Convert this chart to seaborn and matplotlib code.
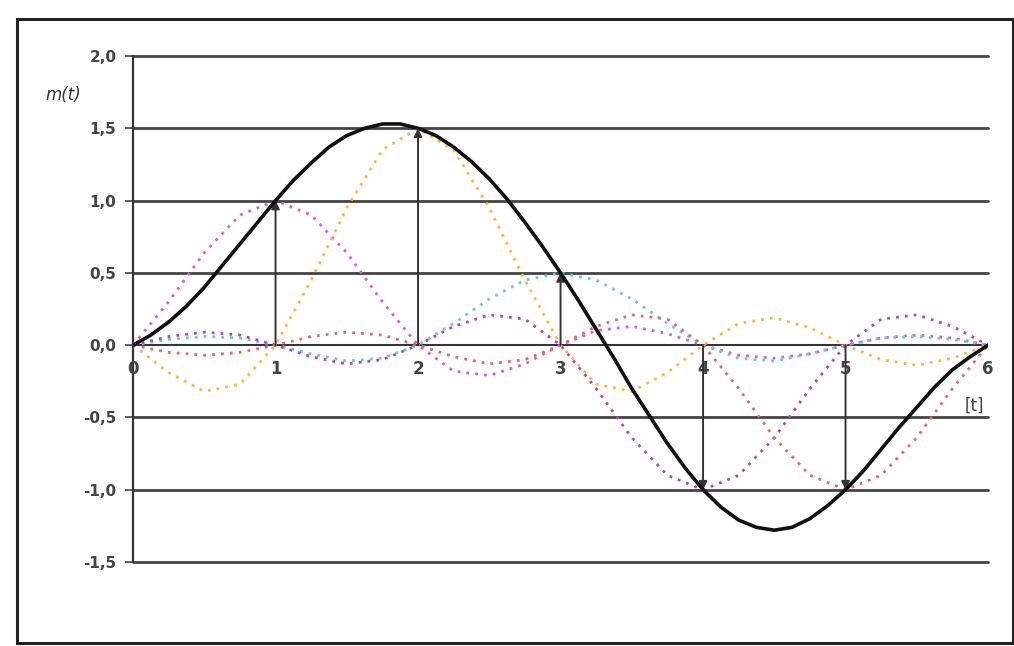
import numpy as np
import pandas as pd
import seaborn as sns
import matplotlib.pyplot as plt
from matplotlib.patches import Rectangle

# time axis for the sample contributions (every 0.25)
t = [0.0, 0.25, 0.5, 0.75, 1.0, 1.25, 1.5, 1.75, 2.0, 2.25, 2.5, 2.75, 3.0,
     3.25, 3.5, 3.75, 4.0, 4.25, 4.5, 4.75, 5.0, 5.25, 5.5, 5.75, 6.0]

# contribution of each sample (dotted curves)
c1 = [0.0, 0.30, 0.64, 0.90, 1.0, 0.90, 0.64, 0.30, 0.0, -0.18, -0.21, -0.13, 0.0,
      0.10, 0.13, 0.08, 0.0, -0.07, -0.09, -0.06, 0.0, 0.05, 0.07, 0.05, 0.0]
c2 = [0.0, -0.19, -0.32, -0.27, 0.0, 0.45, 0.95, 1.35, 1.5, 1.35, 0.95, 0.45, 0.0,
      -0.27, -0.32, -0.19, 0.0, 0.15, 0.19, 0.12, 0.0, -0.10, -0.14, -0.09, 0.0]
c3 = [0.0, 0.04, 0.06, 0.05, 0.0, -0.06, -0.11, -0.09, 0.0, 0.15, 0.32, 0.45, 0.5,
      0.45, 0.32, 0.15, 0.0, -0.09, -0.11, -0.06, 0.0, 0.05, 0.06, 0.04, 0.0]
c4 = [0.0, 0.06, 0.09, 0.07, 0.0, -0.08, -0.13, -0.10, 0.0, 0.13, 0.21, 0.18, 0.0,
      -0.30, -0.64, -0.90, -1.0, -0.90, -0.64, -0.30, 0.0, 0.18, 0.21, 0.13, 0.0]
c5 = [0.0, -0.05, -0.07, -0.05, 0.0, 0.06, 0.09, 0.07, 0.0, -0.08, -0.13, -0.10, 0.0,
      0.13, 0.21, 0.18, 0.0, -0.30, -0.64, -0.90, -1.0, -0.90, -0.64, -0.30, 0.0]
zero = [0.0] * 25

# reconstructed signal m(t), every 0.125
tm = [0.0, 0.125, 0.25, 0.375, 0.5, 0.625, 0.75, 0.875, 1.0, 1.125, 1.25, 1.375,
      1.5, 1.625, 1.75, 1.875, 2.0, 2.125, 2.25, 2.375, 2.5, 2.625, 2.75, 2.875,
      3.0, 3.125, 3.25, 3.375, 3.5, 3.625, 3.75, 3.875, 4.0, 4.125, 4.25, 4.375,
      4.5, 4.625, 4.75, 4.875, 5.0, 5.125, 5.25, 5.375, 5.5, 5.625, 5.75, 5.875, 6.0]
m = [0.0, 0.07, 0.16, 0.27, 0.40, 0.55, 0.70, 0.85, 1.0, 1.14, 1.26, 1.37,
     1.45, 1.50, 1.53, 1.53, 1.5, 1.45, 1.37, 1.27, 1.15, 1.01, 0.85, 0.68,
     0.5, 0.31, 0.11, -0.09, -0.30, -0.49, -0.68, -0.85, -1.0, -1.12, -1.21, -1.26,
     -1.28, -1.26, -1.20, -1.11, -1.0, -0.87, -0.72, -0.57, -0.43, -0.29, -0.17, -0.08, 0.0]

# sample points (arrows)
sample_t = [1, 2, 3, 4, 5]
sample_v = [1.0, 1.5, 0.5, -1.0, -1.0]

series = {'c1': c1, 'c2': c2, 'c3': c3, 'c4': c4, 'c5': c5}
colors = {'c1': '#d860c8', 'c2': '#ffb545', 'c3': '#6cc4e8', 'c4': '#b048b8', 'c5': '#e06a6a'}

sns.set_style('white')
fig = plt.figure(figsize=(10.14, 6.46), dpi=100)
ax = fig.add_axes([0.1312, 0.1300, 0.8432, 0.7833])

# outer chart frame
fig.patches.append(Rectangle((17 / 1014, 3 / 646), 996 / 1014, 624 / 646,
                             transform=fig.transFigure, fill=False,
                             edgecolor='#222222', linewidth=2.2, zorder=0))

for yv in [-1.5, -1.0, -0.5, 0.5, 1.0, 1.5, 2.0]:
    ax.axhline(yv, color='#444444', linewidth=2.0, zorder=1, clip_on=False)

sns.lineplot(x=t, y=zero, ax=ax, color='#6cc4e8', linewidth=1.5, zorder=2)
ax.axhline(0, color='#333333', linewidth=1.4, zorder=2)

for name, vals in series.items():
    sns.lineplot(x=t, y=vals, ax=ax, color=colors[name], linewidth=2.0,
                 linestyle=(0, (1, 2.2)), zorder=3)

for st, sv in zip(sample_t, sample_v):
    ax.annotate('', xy=(st, sv), xytext=(st, 0),
                arrowprops=dict(arrowstyle='-|>', color='#333333', lw=1.4,
                                mutation_scale=12, shrinkA=0, shrinkB=0),
                zorder=4)

sns.lineplot(x=tm, y=m, ax=ax, color='#111111', linewidth=2.6, zorder=5)

ax.set_xlim(0, 6)
ax.set_ylim(-1.5, 2.0)
ax.set_xticks([])
yt = [2.0, 1.5, 1.0, 0.5, 0.0, -0.5, -1.0, -1.5]
ax.set_yticks(yt)
ax.set_yticklabels([f'{v:.1f}'.replace('.', ',') for v in yt],
                   fontsize=11, color='#444444', fontweight='bold')
ax.tick_params(axis='y', length=6, width=1.2, color='#444444', pad=6, direction='out', left=True)

for xv in range(7):
    ax.text(xv, -0.1, str(xv), ha='center', va='top', fontsize=12,
            color='#444444', fontweight='bold')

for s in ['top', 'right', 'bottom']:
    ax.spines[s].set_visible(False)
ax.spines['left'].set_color('#333333')
ax.spines['left'].set_linewidth(1.6)

ax.text(5.97, -0.42, '[t]', ha='right', va='center', fontsize=12, color='#444444')
fig.text(0.045, 0.845, 'm(t)', fontsize=12, style='italic', color='#333333')

ax.set_xlabel('')
ax.set_ylabel('')
fig.savefig('out.png', dpi=100)
